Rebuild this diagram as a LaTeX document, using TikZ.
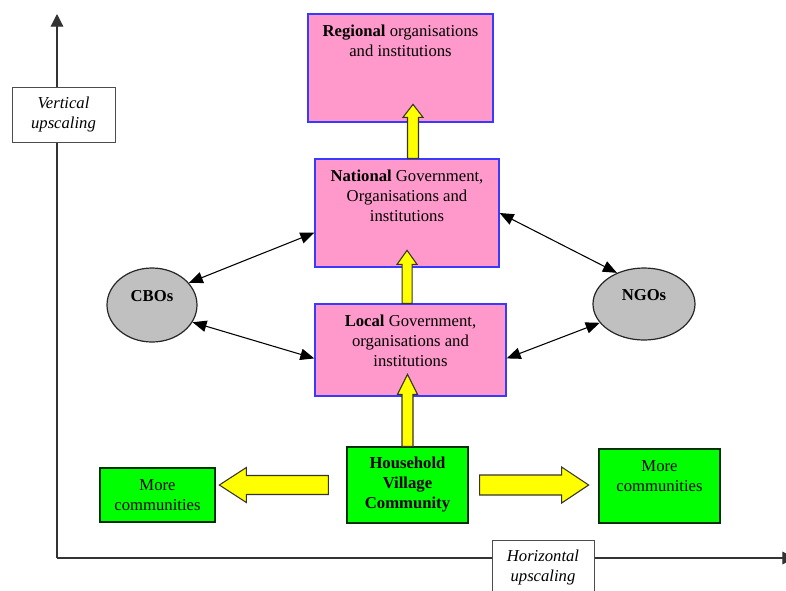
\documentclass[tikz,border=0pt]{standalone}
\usepackage{fontspec}
\setmainfont{Liberation Serif}
\usetikzlibrary{arrows.meta,shapes.geometric}
\AtBeginDocument{\fontsize{12.5}{15}\selectfont}

\definecolor{orgpink}{HTML}{FF99CC}
\definecolor{orgblue}{HTML}{3A3AFF}
\definecolor{comgreen}{HTML}{00FF00}
\definecolor{upyellow}{HTML}{FFFF00}
\definecolor{groupgray}{HTML}{C0C0C0}

\tikzset{
  orgbox/.style={draw=orgblue, fill=orgpink, line width=1pt},
  combox/.style={draw=black!80!green, fill=comgreen, line width=1pt, align=center},
  groupnode/.style={draw=black!85, fill=groupgray, ellipse, line width=0.9pt},
  axisbox/.style={draw=black!70, fill=white, line width=0.6pt, align=center},
  boxtext/.style={anchor=north, align=center, yshift=-4pt},
  fatarrow/.style={draw=black!80!olive, fill=upyellow, line width=0.8pt, line join=miter},
  link/.style={<->, >={Triangle[length=10.5pt,width=8.5pt]}, line width=0.8pt}
}

\newcommand{\fatarrow}[6]{%
  \draw[fatarrow, shift={#1}, rotate=#2] (0,-#4) -- ({#3-#6},-#4) -- ({#3-#6},-#5) -- (#3,0)
    -- ({#3-#6},#5) -- ({#3-#6},#4) -- (0,#4) -- cycle;
}

\begin{document}
\begin{tikzpicture}[x=0.75pt, y=-0.75pt]
  \useasboundingbox (0,0) rectangle (786,590);

  \coordinate (origin) at (57,558);
  \coordinate (ytop) at (57,14);
  \coordinate (xend) at (795,558);
  \draw[line width=0.9pt, black!80, -{Triangle[length=9.5pt,width=9.5pt]}] (origin) -- (ytop);
  \draw[line width=0.9pt, black!80, -{Triangle[length=9.5pt,width=9.5pt]}] (origin) -- (xend);

  \node[axisbox, minimum width=77.25pt, minimum height=41.25pt] (vlabel) at (63.5,114.5)
    {\textit{Vertical}\\\textit{upscaling}};
  \node[axisbox, minimum width=76.5pt, minimum height=41.25pt] (hlabel) at (543,567.5)
    {\textit{Horizontal}\\\textit{upscaling}};

  \node[orgbox, minimum width=138.75pt, minimum height=81pt,
    label={[boxtext]north:{\textbf{Regional} organisations\\and institutions}}] (reg) at (400.5,68) {};
  \node[orgbox, minimum width=138pt, minimum height=81pt,
    label={[boxtext]north:{\textbf{National} Government,\\Organisations and\\institutions}}] (nat) at (407,213) {};
  \node[orgbox, minimum width=143.25pt, minimum height=69pt,
    label={[boxtext]north:{\textbf{Local} Government,\\organisations and\\institutions}}] (loc) at (410.5,350) {};

  \node[groupnode, minimum width=67.5pt, minimum height=55.5pt,
    label={[yshift=7pt]center:\textbf{CBOs}}] (cbo) at (152,305) {};
  \node[groupnode, minimum width=76.5pt, minimum height=54pt,
    label={[yshift=7pt]center:\textbf{NGOs}}] (ngo) at (644,304) {};

  \node[combox, minimum width=90.75pt, minimum height=57pt] (hvc) at (407.5,485)
    {\textbf{Household}\\\textbf{Village}\\\textbf{Community}};
  \node[combox, minimum width=86.25pt, minimum height=40.5pt] (lmore) at (157.5,495)
    {More\\communities};
  \node[combox, minimum width=90.75pt, minimum height=55.5pt,
    label={[boxtext, yshift=-1pt]north:{More\\communities}}] (rmore) at (659.5,486) {};

  \def \Links {
    cbo.31/nat.192,
    cbo.337/loc.185,
    ngo.131/nat.east,
    ngo.203/loc.355}
  \foreach \a / \b in \Links {
    \draw[link] (\a) -- (\b);
  }

  \fatarrow{([xshift=4.5pt]nat.north)}{90}{54}{5.5}{10}{13}
  \fatarrow{([xshift=-2.6pt]loc.north)}{90}{53}{5}{10}{14}
  \fatarrow{(hvc.north)}{90}{72}{5.5}{10}{20}
  \fatarrow{([xshift=-13.5pt]hvc.west)}{180}{109}{9.5}{17.5}{27}
  \fatarrow{([xshift=8.25pt]hvc.east)}{0}{109}{10}{18}{27}
\end{tikzpicture}
\end{document}
